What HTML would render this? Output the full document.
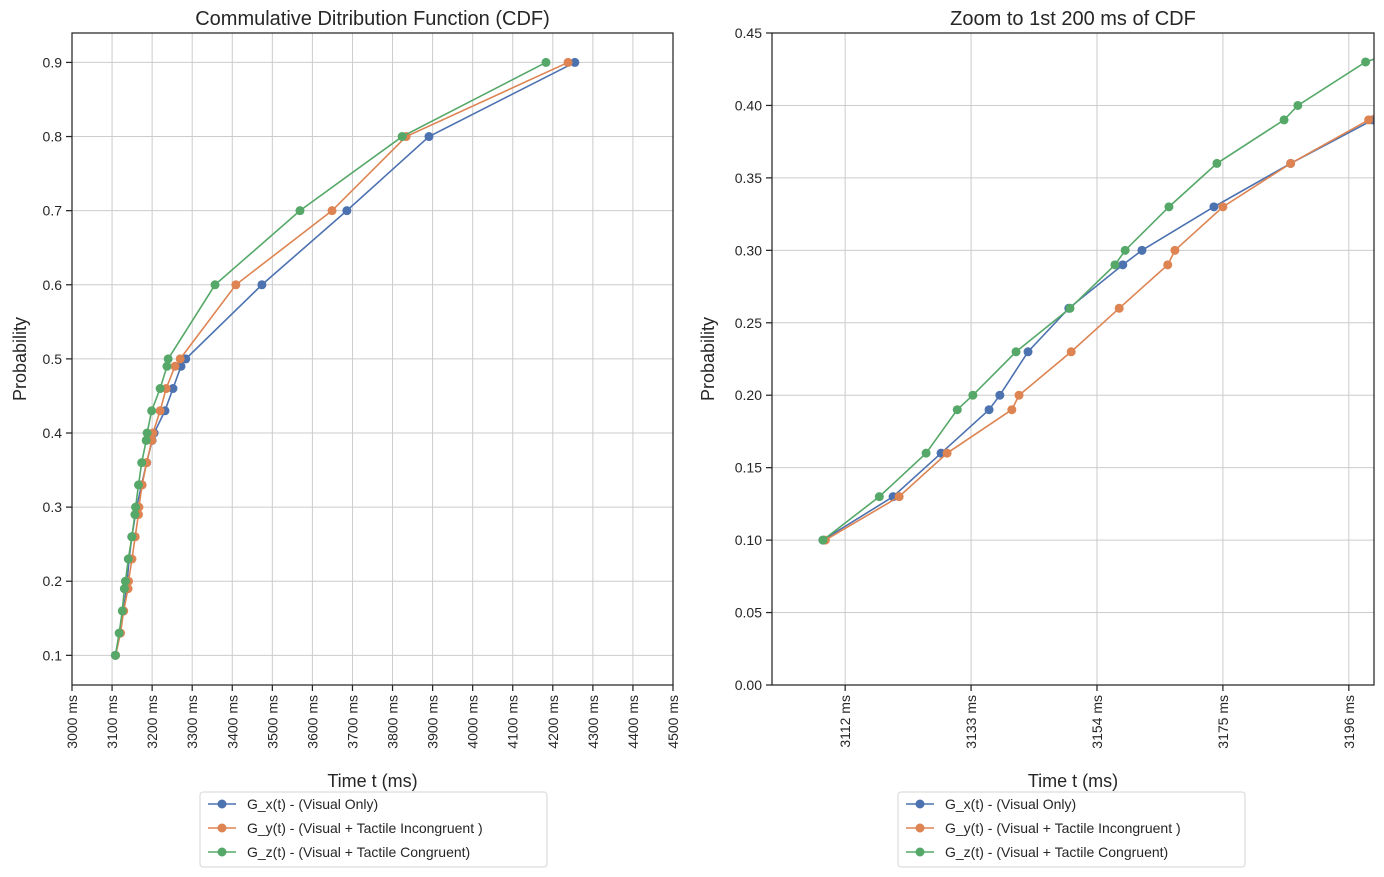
<!DOCTYPE html>
<html><head><meta charset="utf-8"><style>
body{margin:0;background:#fff;font-family:"Liberation Sans","DejaVu Sans",sans-serif}
svg{display:block}
</style></head><body>
<svg id="chart" width="1384" height="877" xmlns="http://www.w3.org/2000/svg"></svg>
<script>
const probs=[0.1,0.13,0.16,0.19,0.2,0.23,0.26,0.29,0.3,0.33,0.36,0.39,0.4,0.43,0.46,0.49,0.5,0.6,0.7,0.8,0.9];
const gx=[3108.3,3120,3128,3136,3137.8,3142.5,3149.3,3158.3,3161.5,3173.5,3186.3,3200,3205,3232,3252,3272,3284,3474,3686,3891,4255];
const gy=[3108.7,3121,3129,3139.8,3141,3149.7,3157.7,3165.8,3167,3175,3186.3,3199.3,3202,3220,3235,3257,3270,3409,3649,3834,4238];
const gz=[3108.3,3117.7,3125.5,3130.7,3133.3,3140.5,3149.5,3157,3158.7,3166,3174,3185.2,3187.5,3198.8,3220,3237,3240,3357,3569,3824,4183];
const seriesNames=["G_x(t) - (Visual Only)","G_y(t) - (Visual + Tactile Incongruent )","G_z(t) - (Visual + Tactile Congruent)"];
const leftXTicks=[3000,3100,3200,3300,3400,3500,3600,3700,3800,3900,4000,4100,4200,4300,4400,4500];
const leftYTicks=[0.1,0.2,0.3,0.4,0.5,0.6,0.7,0.8,0.9];
const rightXTicks=[3112,3133,3154,3175,3196];
const rightYTicks=[0,0.05,0.1,0.15,0.2,0.25,0.3,0.35,0.4,0.45];
const colors=["#4c72b0","#dd8452","#55a868"];
const NS="http://www.w3.org/2000/svg";
const svg=document.getElementById('chart');
function mk(tag,attrs,parent,text){const e=document.createElementNS(NS,tag);for(const k in attrs)e.setAttribute(k,attrs[k]);if(text!==undefined)e.textContent=text;(parent||svg).appendChild(e);return e;}
function panel(p){
  const g=mk('g',{});
  
  
  const X=v=>p.x0+(v-p.d0)/(p.d1-p.d0)*(p.x1-p.x0);
  const Y=v=>p.y0-(v-p.r0)/(p.r1-p.r0)*(p.y0-p.y1);
  const grid=mk('g',{},g);
  p.xt.forEach(t=>{mk('line',{x1:X(t),x2:X(t),y1:p.y1,y2:p.y0,stroke:'#cccccc','stroke-width':1},grid);});
  p.yt.forEach(t=>{mk('line',{x1:p.x0,x2:p.x1,y1:Y(t),y2:Y(t),stroke:'#cccccc','stroke-width':1},grid);});
  const cid='clip'+p.name;
  const cp=mk('clipPath',{id:cid},g);mk('rect',{x:p.x0,y:p.y1-6,width:p.x1-p.x0,height:p.y0-p.y1+12},cp);
  const sg=mk('g',{'clip-path':'url(#'+cid+')'},g);
  [gx,gy,gz].forEach((s,i)=>{
    const pts=s.map((v,j)=>X(v)+','+Y(probs[j])).join(' ');
    const pl=mk('polyline',{points:pts,fill:'none',stroke:colors[i],'stroke-width':1.6},sg);
    
    
    s.forEach((v,j)=>{
      const c=mk('circle',{cx:X(v),cy:Y(probs[j]),r:4.5,fill:colors[i]},sg);
      
      
    });
  });
  mk('rect',{x:p.x0,y:p.y1,width:p.x1-p.x0,height:p.y0-p.y1,fill:'none',stroke:'#262626','stroke-width':1.25},g);
  p.xt.forEach(t=>{
    const x=X(t);mk('line',{x1:x,x2:x,y1:p.y0,y2:p.y0+6,stroke:'#262626','stroke-width':1.25},g);
    const tx=mk('text',{x:x+5,y:p.y0+10,'font-size':14,fill:'#262626','text-anchor':'end',transform:'rotate(-90 '+(x+5)+' '+(p.y0+10)+')'},g,t+' ms');
    
  });
  p.yt.forEach(t=>{
    const y=Y(t);mk('line',{x1:p.x0-6,x2:p.x0,y1:y,y2:y,stroke:'#262626','stroke-width':1.25},g);
    const tx=mk('text',{x:p.x0-10,y:y+5,'font-size':14,fill:'#262626','text-anchor':'end'},g,t.toFixed(p.yd));
    
  });
  const ti=mk('text',{x:(p.x0+p.x1)/2,y:p.y1-8,'font-size':20,fill:'#262626','text-anchor':'middle'},g,p.title);
  
  const xl=mk('text',{x:(p.x0+p.x1)/2,y:787,'font-size':18,fill:'#262626','text-anchor':'middle'},g,'Time t (ms)');
  
  const yx=p.x0-p.yoff,yy=(p.y0+p.y1)/2;
  const yl=mk('text',{x:yx,y:yy,'font-size':18,fill:'#262626','text-anchor':'middle',transform:'rotate(-90 '+yx+' '+yy+')'},g,'Probability');
  
  const lg=mk('g',{},g);
  mk('rect',{x:p.lx,y:792,width:347,height:75,rx:3,fill:'#fff',stroke:'#d6d6d6'},lg);
  seriesNames.forEach((nm,i)=>{
    const y=804+i*24;
    const e=mk('g',{},lg);
    mk('line',{x1:p.lx+8,x2:p.lx+36,y1:y,y2:y,stroke:colors[i],'stroke-width':1.5},e);
    mk('circle',{cx:p.lx+22,cy:y,r:4.5,fill:colors[i]},e);
    mk('text',{x:p.lx+47,y:y+5,'font-size':14,fill:'#262626'},e,nm);
  });
}
panel({name:'left-cdf-chart',x0:72,x1:673,y0:685,y1:33,d0:3000,d1:4500,r0:0.06,r1:0.9397,xt:leftXTicks,yt:leftYTicks,yd:1,yoff:46,title:'Commulative Ditribution Function (CDF)',lx:200});
panel({name:'right-zoom-chart',x0:772,x1:1374,y0:685,y1:33,d0:3099.8,d1:3200.2,r0:0,r1:0.45,xt:rightXTicks,yt:rightYTicks,yd:2,yoff:58,title:'Zoom to 1st 200 ms of CDF',lx:898});
</script>
</body></html>
